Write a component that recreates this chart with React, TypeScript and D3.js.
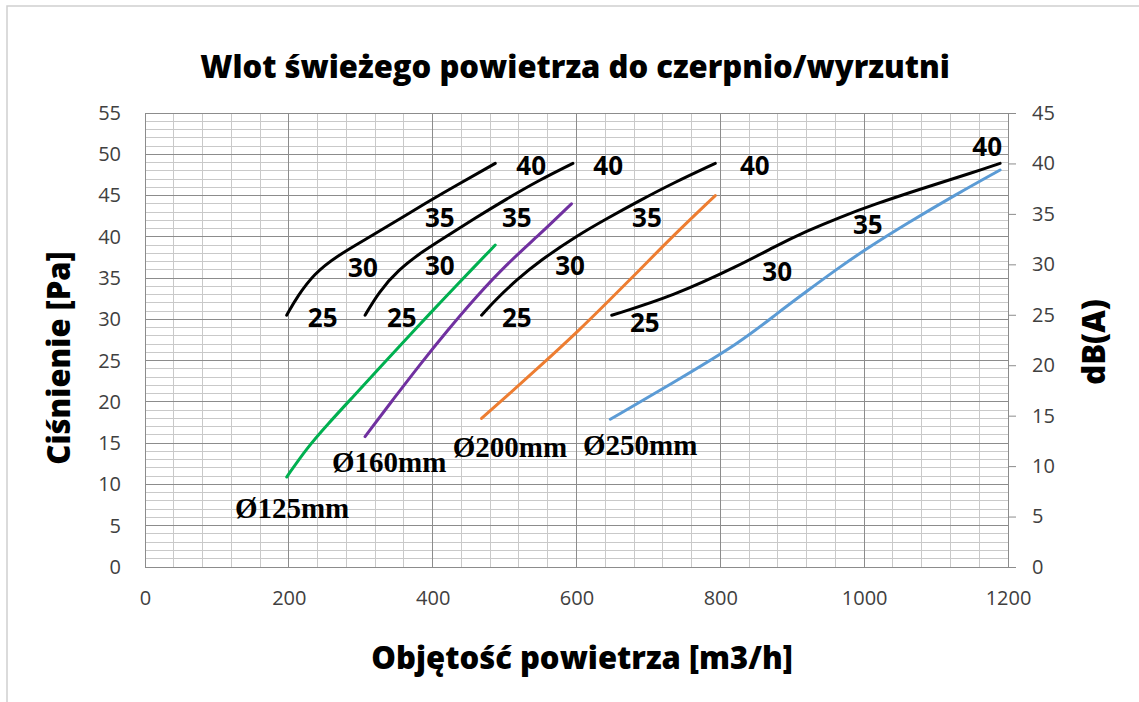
import React, { useRef, useEffect } from 'react';
import * as d3 from 'd3';

interface Pt {
  x: number;
  y: number;
}

interface Label {
  x: number;
  y: number;
  text: string;
}

// pressure curves per duct diameter (x = m3/h, y = Pa)
const duct125: Pt[] = [
  { x: 197, y: 10.9 }, { x: 225, y: 14.4 }, { x: 253, y: 17.2 }, { x: 289, y: 20.6 },
  { x: 327, y: 24.2 }, { x: 378, y: 29.0 }, { x: 410, y: 32.0 }, { x: 456, y: 36.2 },
  { x: 487, y: 39.0 },
];
const duct160: Pt[] = [
  { x: 306, y: 15.8 }, { x: 345, y: 20.3 }, { x: 383, y: 24.6 }, { x: 420, y: 28.6 },
  { x: 460, y: 32.7 }, { x: 503, y: 36.7 }, { x: 549, y: 40.3 }, { x: 593, y: 44.0 },
];
const duct200: Pt[] = [
  { x: 468, y: 18.0 }, { x: 503, y: 20.7 }, { x: 549, y: 24.3 }, { x: 605, y: 28.8 },
  { x: 642, y: 32.0 }, { x: 688, y: 36.0 }, { x: 734, y: 40.1 }, { x: 793, y: 45.0 },
];
const duct250: Pt[] = [
  { x: 647, y: 17.9 }, { x: 734, y: 22.3 }, { x: 828, y: 27.2 }, { x: 880, y: 30.8 },
  { x: 920, y: 33.4 }, { x: 967, y: 36.4 }, { x: 1004, y: 38.6 }, { x: 1059, y: 41.6 },
  { x: 1129, y: 45.2 }, { x: 1189, y: 48.1 },
];

// noise isolines (black)
const noise125: Pt[] = [
  { x: 197, y: 30.5 }, { x: 212, y: 32.8 }, { x: 235, y: 35.5 }, { x: 265, y: 37.6 },
  { x: 317, y: 40.2 }, { x: 364, y: 42.7 }, { x: 410, y: 45.1 }, { x: 487, y: 48.9 },
];
const noise160: Pt[] = [
  { x: 306, y: 30.5 }, { x: 325, y: 33.3 }, { x: 352, y: 36.0 }, { x: 387, y: 38.3 },
  { x: 420, y: 40.1 }, { x: 456, y: 42.1 }, { x: 503, y: 44.6 }, { x: 549, y: 46.9 },
  { x: 595, y: 48.9 },
];
const noise200: Pt[] = [
  { x: 468, y: 30.5 }, { x: 489, y: 32.5 }, { x: 517, y: 34.8 }, { x: 549, y: 37.1 },
  { x: 600, y: 40.1 }, { x: 642, y: 42.2 }, { x: 688, y: 44.4 }, { x: 734, y: 46.5 },
  { x: 793, y: 48.9 },
];
const noise250: Pt[] = [
  { x: 649, y: 30.5 }, { x: 734, y: 32.8 }, { x: 828, y: 36.6 }, { x: 873, y: 38.7 },
  { x: 920, y: 40.7 }, { x: 967, y: 42.4 }, { x: 1013, y: 43.9 }, { x: 1082, y: 45.9 },
  { x: 1152, y: 47.8 }, { x: 1189, y: 48.9 },
];

const dbLabels: Label[] = [
  { x: 247, y: 30.3, text: '25' }, { x: 303, y: 36.3, text: '30' },
  { x: 410, y: 42.4, text: '35' }, { x: 537, y: 48.7, text: '40' },
  { x: 357, y: 30.3, text: '25' }, { x: 410, y: 36.6, text: '30' },
  { x: 517, y: 42.4, text: '35' }, { x: 644, y: 48.7, text: '40' },
  { x: 517, y: 30.3, text: '25' }, { x: 591, y: 36.6, text: '30' },
  { x: 698, y: 42.4, text: '35' }, { x: 848, y: 48.7, text: '40' },
  { x: 695, y: 29.7, text: '25' }, { x: 879, y: 35.8, text: '30' },
  { x: 1005, y: 41.6, text: '35' }, { x: 1171, y: 51.0, text: '40' },
];

const ductLabels: Label[] = [
  { x: 125, y: 5.9, text: 'Ø125mm' },
  { x: 260, y: 11.5, text: 'Ø160mm' },
  { x: 428, y: 13.3, text: 'Ø200mm' },
  { x: 609, y: 13.6, text: 'Ø250mm' },
];

const ductSeries = [
  { data: duct125, color: '#00b050' },
  { data: duct160, color: '#7030a0' },
  { data: duct200, color: '#ed7d31' },
  { data: duct250, color: '#5b9bd5' },
];
const noiseSeries = [noise125, noise160, noise200, noise250];

const xTicks = [0, 200, 400, 600, 800, 1000, 1200];
const yLeftTicks = d3.range(0, 56, 5);
const yRightTicks = d3.range(0, 46, 5);

const W = 1139;
const H = 702;

const App: React.FC = () => {
  const svgRef = useRef<SVGSVGElement>(null);

  useEffect(() => {
    if (!svgRef.current) return;
    const svg = d3.select(svgRef.current);
    svg.selectAll('*').remove();

    const left = 145, right = 1008, top = 113, bottom = 567;
    const x = d3.scaleLinear().domain([0, 1200]).range([left, right]);
    const y = d3.scaleLinear().domain([0, 55]).range([bottom, top]);
    const yR = d3.scaleLinear().domain([0, 45]).range([bottom, top]);

    svg.append('rect').attr('width', W).attr('height', H).attr('fill', 'white');

    // outer frame
    svg.append('path')
      .attr('d', `M7,${H} V6 H${W}`)
      .attr('fill', 'none')
      .attr('stroke', '#d0d0d0')
      .attr('stroke-width', 1.5);

    // minor grid
    const g = svg.append('g').attr('shape-rendering', 'crispEdges');
    g.selectAll('.hmin')
      .data(d3.range(0, 56, 1).filter(v => v % 5 !== 0))
      .enter().append('line')
      .attr('x1', left).attr('x2', right)
      .attr('y1', d => y(d)).attr('y2', d => y(d))
      .attr('stroke', '#c9c9c9').attr('stroke-width', 1);
    g.selectAll('.vmin')
      .data(d3.range(0, 1201, 40).filter(v => v % 200 !== 0))
      .enter().append('line')
      .attr('y1', top).attr('y2', bottom)
      .attr('x1', d => x(d)).attr('x2', d => x(d))
      .attr('stroke', '#c9c9c9').attr('stroke-width', 1);
    // major grid
    g.selectAll('.hmaj')
      .data(yLeftTicks)
      .enter().append('line')
      .attr('x1', left).attr('x2', right)
      .attr('y1', d => y(d)).attr('y2', d => y(d))
      .attr('stroke', '#8c8c8c').attr('stroke-width', 1);
    g.selectAll('.vmaj')
      .data(xTicks)
      .enter().append('line')
      .attr('y1', top).attr('y2', bottom)
      .attr('x1', d => x(d)).attr('x2', d => x(d))
      .attr('stroke', '#8c8c8c').attr('stroke-width', 1);

    // right axis
    const rAxis = svg.append('g').attr('transform', `translate(${right},0)`)
      .call(d3.axisRight(yR).tickValues(yRightTicks).tickSize(8).tickPadding(16).tickFormat(d3.format('d')));
    rAxis.select('.domain').attr('stroke', '#8c8c8c');
    rAxis.selectAll('.tick line').attr('stroke', '#8c8c8c');
    rAxis.selectAll('text')
      .style('font-family', '"Open Sans", sans-serif')
      .style('font-size', '20px')
      .attr('fill', '#404040');

    // left axis (labels only)
    const lAxis = svg.append('g').attr('transform', `translate(${left},0)`)
      .call(d3.axisLeft(y).tickValues(yLeftTicks).tickSize(0).tickPadding(24).tickFormat(d3.format('d')));
    lAxis.select('.domain').remove();
    lAxis.selectAll('text')
      .style('font-family', '"Open Sans", sans-serif')
      .style('font-size', '20px')
      .attr('fill', '#404040');

    // bottom axis (labels only)
    const bAxis = svg.append('g').attr('transform', `translate(0,${bottom})`)
      .call(d3.axisBottom(x).tickValues(xTicks).tickSize(0).tickPadding(24).tickFormat(d3.format('d')));
    bAxis.select('.domain').remove();
    bAxis.selectAll('text')
      .style('font-family', '"Open Sans", sans-serif')
      .style('font-size', '20px')
      .attr('fill', '#404040');

    const line = d3.line<Pt>()
      .x(d => x(d.x))
      .y(d => y(d.y))
      .curve(d3.curveBasis);

    ductSeries.forEach(s => {
      svg.append('path')
        .datum(s.data)
        .attr('d', line)
        .attr('fill', 'none')
        .attr('stroke', s.color)
        .attr('stroke-width', 3)
        .attr('stroke-linecap', 'round');
    });

    noiseSeries.forEach(s => {
      svg.append('path')
        .datum(s)
        .attr('d', line)
        .attr('fill', 'none')
        .attr('stroke', '#000')
        .attr('stroke-width', 3)
        .attr('stroke-linecap', 'round');
    });

    svg.selectAll('.dbl')
      .data(dbLabels)
      .enter().append('text')
      .attr('x', d => x(d.x))
      .attr('y', d => y(d.y))
      .attr('text-anchor', 'middle')
      .attr('dominant-baseline', 'central')
      .style('font-family', '"Open Sans", sans-serif')
      .style('font-weight', 700)
      .style('font-size', '26px')
      .attr('fill', '#000')
      .text(d => d.text);

    svg.selectAll('.ductl')
      .data(ductLabels)
      .enter().append('text')
      .attr('x', d => x(d.x))
      .attr('y', d => y(d.y))
      .attr('text-anchor', 'start')
      .style('font-family', '"Liberation Serif", "Times New Roman", serif')
      .style('font-weight', 700)
      .style('font-size', '29px')
      .attr('fill', '#000')
      .text(d => d.text);

    // titles
    svg.append('text')
      .attr('x', 575).attr('y', 66)
      .attr('text-anchor', 'middle')
      .attr('dominant-baseline', 'central')
      .style('font-family', '"Open Sans", sans-serif')
      .style('font-weight', 800)
      .style('font-size', '31px')
      .text('Wlot świeżego powietrza do czerpnio/wyrzutni');

    svg.append('text')
      .attr('x', 582).attr('y', 657)
      .attr('text-anchor', 'middle')
      .attr('dominant-baseline', 'central')
      .style('font-family', '"Open Sans", sans-serif')
      .style('font-weight', 800)
      .style('font-size', '31px')
      .text('Objętość powietrza [m3/h]');

    svg.append('text')
      .attr('transform', 'translate(58,358) rotate(-90)')
      .attr('text-anchor', 'middle')
      .attr('dominant-baseline', 'central')
      .style('font-family', '"Open Sans", sans-serif')
      .style('font-weight', 800)
      .style('font-size', '31px')
      .text('Ciśnienie [Pa]');

    svg.append('text')
      .attr('transform', 'translate(1093,342) rotate(-90)')
      .attr('text-anchor', 'middle')
      .attr('dominant-baseline', 'central')
      .style('font-family', '"Open Sans", sans-serif')
      .style('font-weight', 800)
      .style('font-size', '31px')
      .text('dB(A)');
  }, []);

  return (
    <svg
      ref={svgRef}
      width={W}
      height={H}
      style={{ position: 'absolute', left: 0, top: 0 }}
    />
  );
};

export default App;
